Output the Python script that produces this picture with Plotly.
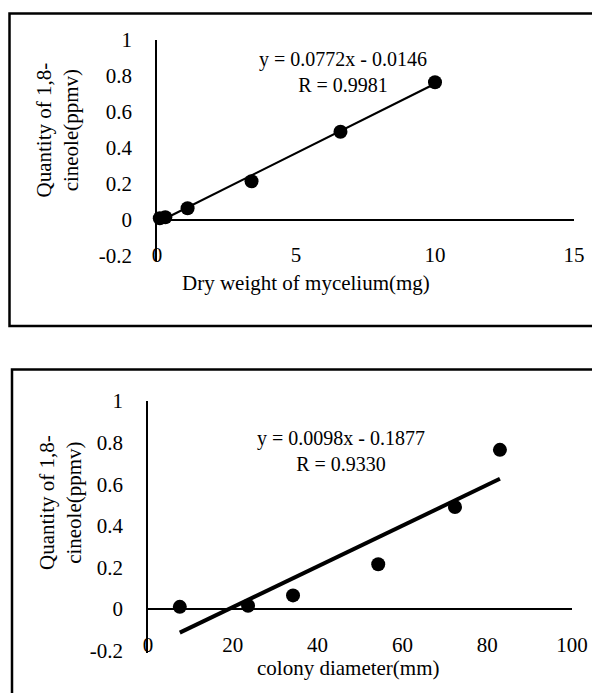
import plotly.graph_objects as go

# ---- data ----
dry_weight = [0.1, 0.3, 1.1, 3.4, 6.6, 10.0]
colony_diam = [7.5, 23.6, 34.2, 54.3, 72.4, 83.0]
cineole = [0.01, 0.015, 0.065, 0.215, 0.49, 0.765]

top_slope, top_intercept, top_r = 0.0772, -0.0146, "0.9981"
bot_slope, bot_intercept, bot_r = 0.0098, -0.1877, "0.9330"

top_xticks = [0, 5, 10, 15]
bot_xticks = [0, 20, 40, 60, 80, 100]
yticks = [-0.2, 0, 0.2, 0.4, 0.6, 0.8, 1]
ytick_text = ["-0.2", "0", "0.2", "0.4", "0.6", "0.8", "1"]

FONT = "Liberation Serif"
FS = 21
W, H = 592, 693

def fit(xs, m, b):
    x0, x1 = min(xs), max(xs)
    return [x0, x1], [m * x0 + b, m * x1 + b]

fig = go.Figure()

# top panel
fig.add_trace(go.Scatter(x=dry_weight, y=cineole, mode="markers",
                         marker=dict(color="black", size=14), cliponaxis=False,
                         xaxis="x", yaxis="y", showlegend=False))
tx, ty = fit(dry_weight, top_slope, top_intercept)
fig.add_trace(go.Scatter(x=tx, y=ty, mode="lines", line=dict(color="black", width=2.2),
                         cliponaxis=False, xaxis="x", yaxis="y", showlegend=False))

# bottom panel
fig.add_trace(go.Scatter(x=colony_diam, y=cineole, mode="markers",
                         marker=dict(color="black", size=14), cliponaxis=False,
                         xaxis="x2", yaxis="y2", showlegend=False))
bx, by = fit(colony_diam, bot_slope, bot_intercept)
fig.add_trace(go.Scatter(x=bx, y=by, mode="lines", line=dict(color="black", width=4),
                         cliponaxis=False, xaxis="x2", yaxis="y2", showlegend=False))

def px_x(p):
    return p / W

def px_y(p):
    return 1 - p / H

xaxis_common = dict(showgrid=False, zeroline=False, showline=False, ticks="",
                    automargin=False,
                    tickfont=dict(family=FONT, size=FS, color="black"))
yaxis_common = dict(showgrid=False, zeroline=True, zerolinecolor="black", zerolinewidth=1.6,
                    showline=True, linecolor="black", linewidth=1.6, ticks="",
                    automargin=False,
                    tickvals=yticks, ticktext=ytick_text, ticklabelstandoff=19,
                    tickfont=dict(family=FONT, size=FS, color="black"))

fig.update_layout(
    width=W, height=H, margin=dict(l=0, r=0, t=0, b=0, pad=0, autoexpand=False),
    paper_bgcolor="white", plot_bgcolor="white",
    font=dict(family=FONT, size=FS, color="black"),
    xaxis=dict(domain=[px_x(157), px_x(574)], range=[0, 15], tickvals=top_xticks,
               anchor="y", ticklabelstandoff=-21, **xaxis_common),
    yaxis=dict(domain=[px_y(260.5), px_y(40)], range=[-0.225, 1], anchor="x", **yaxis_common),
    xaxis2=dict(domain=[px_x(148), px_x(572)], range=[0, 100], tickvals=bot_xticks,
                anchor="y2", ticklabelstandoff=-23, **xaxis_common),
    yaxis2=dict(domain=[px_y(653), px_y(401)], range=[-0.212, 1], anchor="x2", **yaxis_common),
)

def note(text, xp, yp, size=FS, angle=0):
    return dict(text=text, x=px_x(xp), y=px_y(yp), xref="paper", yref="paper",
                xanchor="center", yanchor="middle", textangle=angle,
                showarrow=False, font=dict(family=FONT, size=size, color="black"),
                align="center")

ann = [
    note(f"y = {top_slope}x - {abs(top_intercept)}<br>R = {top_r}", 343, 72, 20),
    note(f"y = {bot_slope}x - {abs(bot_intercept)}<br>R = {bot_r}", 341, 451, 20),
    note("Quantity of 1,8-<br>cineole(ppmv)", 57.5, 130, FS, -90),
    note("Quantity of 1,8-<br>cineole(ppmv)", 60, 503, FS, -90),
    note("Dry weight of mycelium(mg)", 306, 283),
    note("colony diameter(mm)", 349, 668),
]
fig.update_layout(annotations=ann)

# panel frames
fig.add_shape(type="rect", xref="paper", yref="paper",
              x0=px_x(9.5), x1=1.05, y0=px_y(326), y1=px_y(13.5),
              line=dict(color="black", width=2.5))
fig.add_shape(type="rect", xref="paper", yref="paper",
              x0=px_x(12), x1=1.05, y0=-0.05, y1=px_y(369.5),
              line=dict(color="black", width=2.5))

fig.write_html("out.html")
